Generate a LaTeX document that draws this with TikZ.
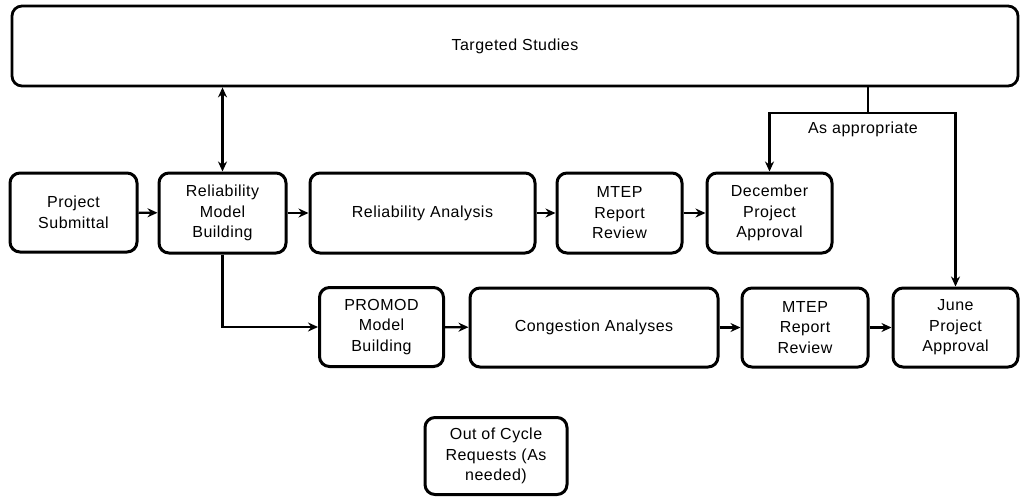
\documentclass[tikz,border=0pt]{standalone}
\usepackage{fontspec}
\setmainfont{Liberation Sans}[LetterSpace=3]
\usetikzlibrary{arrows.meta}
\begin{document}
\begin{tikzpicture}[x=1pt,y=-1pt,
  box/.style={draw,line width=3pt,rounded corners=10pt,align=center,inner sep=2pt,
    font=\fontsize{16}{20.5}\selectfont},
  conn/.style={line width=2.2pt,-{Stealth[length=10pt,width=9pt]}},
  plain/.style={line width=2pt}]
\useasboundingbox (0,0) rectangle (1020,496);
\node[box,line width=2.8pt,minimum width=1006pt,minimum height=80pt] (ts) at (515,46) {Targeted Studies};
\node[box,minimum width=127pt,minimum height=79pt] (ps) at (73.5,212.5) {Project\\Submittal};
\node[box,minimum width=127pt,minimum height=80pt] (rmb) at (222.5,213) {Reliability\\Model\\Building};
\node[box,minimum width=225pt,minimum height=80pt] (ra) at (422.5,213) {Reliability Analysis};
\node[box,minimum width=125pt,minimum height=80pt] (m1) at (619.5,213) {MTEP\\Report\\Review};
\node[box,minimum width=125pt,minimum height=80pt] (dec) at (769.5,213) {December\\Project\\Approval};
\node[box,minimum width=124pt,minimum height=79pt] (pm) at (381.5,327) {PROMOD\\Model\\Building};
\node[box,minimum width=248pt,minimum height=79pt] (ca) at (594,327.5) {Congestion Analyses};
\node[box,minimum width=126pt,minimum height=79pt] (m2) at (805,327.5) {MTEP\\Report\\Review};
\node[box,minimum width=125pt,minimum height=79pt] (jun) at (955.5,327.5) {June\\Project\\Approval};
\node[box,minimum width=142pt,minimum height=77pt] (oc) at (496,456) {Out of Cycle\\Requests (As\\needed)};
\draw[conn] (ps) -- (rmb);
\draw[conn] (rmb) -- (ra);
\draw[conn] (ra) -- (m1);
\draw[conn] (m1) -- (dec);
\draw[conn] (pm) -- (ca);
\draw[conn] (ca) -- (m2);
\draw[conn] (m2) -- (jun);
\draw[conn,{Stealth[length=10pt,width=9pt]}-{Stealth[length=10pt,width=9pt]}] (ts.south -| rmb.north) -- (rmb.north);
\draw[conn] (rmb.south) |- (pm.west);
\coordinate (j) at (868,113);
\draw[plain] (ts.south -| j) -- (j);
\draw[conn] (j) -| (dec.north);
\draw[conn] (j) -| (jun.north);
\node[font=\fontsize{16}{19}\selectfont] (lbl) at (863,129) {As appropriate};
\end{tikzpicture}
\end{document}
